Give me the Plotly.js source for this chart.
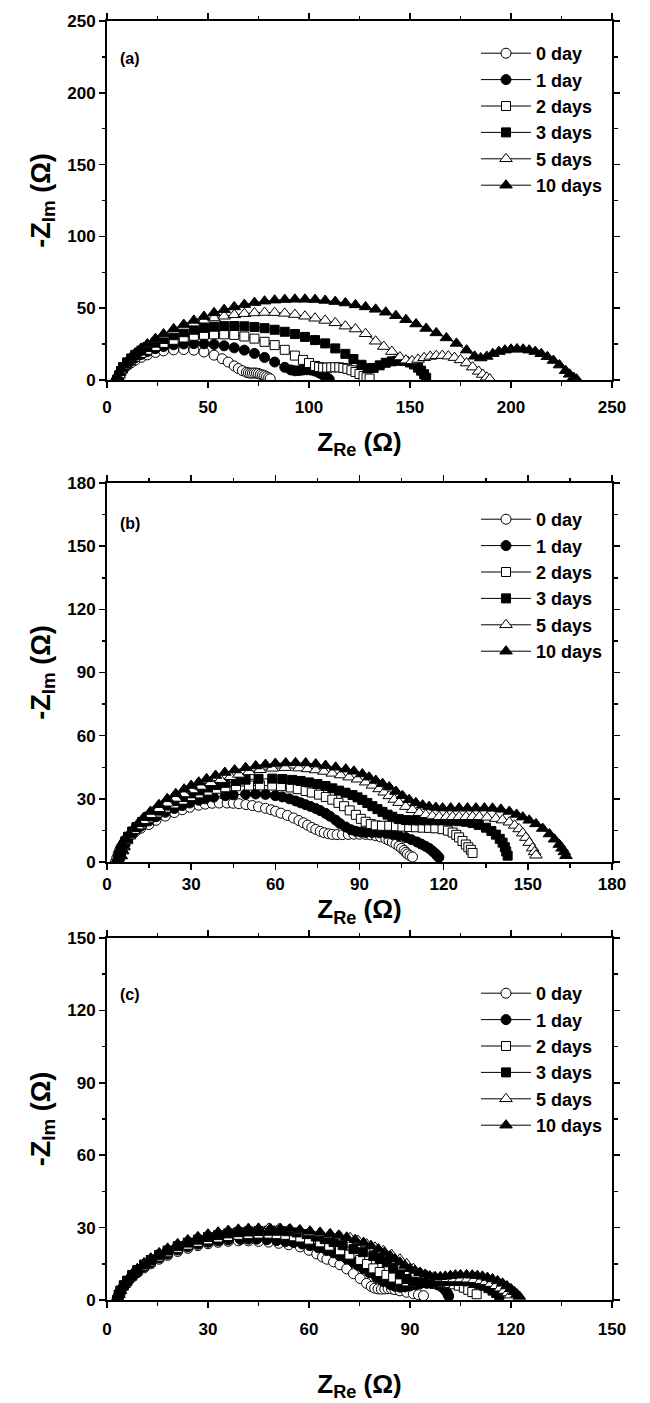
<!DOCTYPE html>
<html>
<head>
<meta charset="utf-8">
<script src="https://cdn.plot.ly/plotly-3.0.1.min.js"></script>
<style>html,body{margin:0;padding:0;background:#fff;}#chart{width:650px;height:1403px;}</style>
</head>
<body>
<div id="chart"></div>
<script>
// ---------------- DATA ----------------
const seriesNames = ['0 day', '1 day', '2 days', '3 days', '5 days', '10 days'];

// Panel (a)
const ax0 = [5,6,7,8,10,12,14,17,20,24,28,33,38,43,48,53,57,60,63,65,67,69,70,71,72,73,74,75,76,77,78,79,80,80.8];
const ay0 = [0,3,5.5,7.5,10,12,13.8,15.8,17.5,19.2,20.3,21,21.2,20.8,19.5,17.3,14.8,12.5,9.8,8,6.5,5.4,5,4.8,4.8,4.9,4.8,4.5,4,3.5,3,2.3,1.6,0.8];
const ax1 = [5,6,7,8,10,12,14,17,20,24,28,33,38,43,48,53,58,63,68,73,78,83,88,91,93,95,97,99,101,103,105,106.5,108,109,110];
const ay1 = [0,3,6,8,11,13.5,15.5,17.8,19.8,21.8,23.3,24.5,25.1,25.3,25.2,24.8,23.8,22.4,20.8,18.5,15.7,12.5,8.8,7,6.4,6.5,6.9,7.1,6.9,6.2,5,3.9,2.6,1.5,0.5];
const ax2 = [5,6,7,8,10,12,14,17,20,24,28,33,38,43,48,53,58,63,68,73,78,83,88,93,97,100,103,105,107,109,111,113,115,117,119,121,123,125,127,128.5,130];
const ay2 = [0,3,6,8.5,11.5,14,16.2,18.8,21,23.6,25.8,28,29.6,30.8,31.5,31.8,31.8,31.4,30.3,28.8,26.6,24.3,21,17,14,11.8,9.8,9,8.6,8.6,8.8,8.9,8.8,8.4,7.8,6.8,5.6,4.2,2.8,1.8,1];
const ax3 = [5,6,7,8,10,12,14,17,20,24,28,33,38,43,48,53,58,63,68,73,78,83,88,93,98,103,108,113,118,122,126,129,132,135,138,141,144,147,150,152,154,155.5,157,158];
const ay3 = [0,3.2,6.3,9,12.3,15,17.5,20.5,23,26,28.6,31.2,33.3,35,36.3,37.1,37.5,37.6,37.4,36.9,36.1,35,33.6,32,30,27.8,25.5,22,18.2,14.6,10.6,8.3,8.4,10.2,12,13,13.4,13.2,12.2,10.8,8.6,6.5,4,1.5];
const ax4 = [5,6,7,8,10,12,14,17,20,24,28,33,38,43,48,53,58,63,68,73,78,83,88,93,98,103,108,113,118,123,128,133,137,141,145,148,151,154,157,160,163,166,169,172,175,178,181,184,186,188,189.5];
const ay4 = [0,3.4,6.7,9.6,13,16,18.7,22,24.8,28.2,31.2,34.5,37.3,39.6,41.6,43.2,44.4,45.4,46.2,46.7,47,46.9,46.4,45.6,44.4,43,41.5,39.8,37.5,35.5,32.2,27,23.3,19.8,16,13.8,13.3,14.3,15.5,16.4,16.9,17,16.6,15.6,14,11.8,9,6,3.8,1.9,0.6];
const ax5 = [4,5,6,7,8.5,10,12,14,17,20,24,28,33,38,43,48,53,58,63,68,73,78,83,88,93,98,103,108,113,118,123,128,133,138,143,148,153,158,163,168,173,178,182,185,188,191,194,197,200,203,206,209,212,215,218,221,224,227,229,231,232.5];
const ay5 = [0,2.5,5,7.5,10.3,12.8,15.8,18.5,22,25,28.8,32,35.6,38.6,41.5,44.2,46.8,49,50.9,52.5,53.9,54.9,55.6,56,56.2,56.2,56,55.4,54.6,53.6,52.3,50.9,49.2,47.2,44.8,42,39,35.9,32.8,29.3,25.5,20.8,16.5,15.3,16.4,18.3,19.8,20.8,21.4,21.6,21.4,20.8,19.8,18.3,16.2,13.6,10.4,6.5,4,1.8,0.5];

// Panel (b)
const bx0 = [3,3.5,4,4.5,5,6,7,8.5,10,12,14.9,17.5,20.8,24,26.8,29.5,32.7,35,37.5,40,42.8,45,47,49.5,51.8,54,56.5,58.5,60.1,62,64.3,66.5,68.4,70,71.5,73,74.4,76,77.4,79,80.3,82,83.9,86,88,90,92.2,94,95.8,97.5,99.4,100.5,101.7,103,104.1,105,105.9,106.5,107.1,108,108.9];
const by0 = [0,2,4,5.5,7,9,10.8,12.8,14.3,16,17.8,19.8,21.8,23.5,24.8,26,27,27.5,27.9,28,28,27.9,27.7,27.3,26.8,26.2,25.5,24.8,24.1,23.2,22.1,20.9,19.7,18.6,17.5,16.4,15.5,14.6,13.9,13.4,13.1,13,13,13.1,13.2,13.2,13.1,12.9,12.5,11.9,11,10.3,9.5,8.5,7.5,6.5,5.5,4.6,3.8,3,2.4];
const bx1 = [3.5,4,4.5,5,6,7,8.5,10,12,14.9,17.5,20.8,24,26.8,29.5,32.7,35,38,42.2,45,49.4,53,56.5,60,62.5,65,67.2,69,70.8,72.5,74.4,76,77.9,79.5,81.5,83,85.1,87,88.7,90.5,92.2,94.5,97,99.5,101.7,104,106.5,108.5,110.5,112,113.5,114.8,116,117,117.7,118.3];
const by1 = [0,2.5,4.5,6.5,9,11,13.2,15,17,19.5,21.5,23.6,25.4,26.8,28,29.3,30,30.8,31.5,31.9,32.2,32.3,32.1,31.5,30.9,30,29,28.1,27.2,26.4,25.4,24.4,23.1,21.7,19.9,18.3,16.6,15.3,14.6,14.2,14,14,13.9,13.6,13.1,12.5,11.6,10.6,9.5,8.5,7.5,6.5,5.2,4,3,2.2];
const bx2 = [4,4.5,5,5.5,6.5,7.5,9,10.5,12.5,15,18,21,24,27,30,32.7,36,39,42.2,46,50.6,54.5,58.9,62,65.5,68,70.8,73,75.6,78,80.3,82.5,84.5,86.5,88.7,90.5,92.2,94,95.8,98,100.6,103,105.3,107.7,110.1,112.5,114.8,117,119.6,121.5,123.2,124.5,125.5,126.7,127.9,128.8,129.7,130.3];
const by2 = [0,2.6,4.8,6.6,9.5,11.6,14,16,18.3,20.8,23.5,25.8,27.8,29.6,31.3,32.6,33.9,34.8,35.5,36,36.3,36.4,36.3,36,35.4,34.6,33.7,33,32,30.9,29.6,28.1,26.5,24.5,22.4,20.5,19.1,18,17.4,17.2,17.2,17,16.8,16.6,16.5,16.3,16.2,16,15.6,14.9,14,12.9,11.7,10,8.3,7,5.8,4.3];
const bx3 = [4,4.5,5,5.5,6.5,7.5,9,10.5,12.5,15,18,21,24,27,30,33,36,39,42.2,46,49.4,54,58.9,62.5,66,69,72,75,77.9,80.3,82.7,85,87.5,89.3,91,92.8,94.6,96.4,98.2,100,101.7,104,106.5,109,111.3,114,116.5,119,121.5,123.5,125.5,128,130.3,132.5,135.1,137,138.6,140,141,141.8,142.3,142.8];
const by3 = [0,2.7,5,6.8,9.8,12,14.5,16.6,19,21.6,24.4,26.8,29,30.9,32.6,34,35.4,36.6,37.6,38.5,39.1,39.5,39.6,39.4,39,38.5,37.8,37,36.1,35,33.9,32.9,31.8,30.7,29.5,28,26.5,25.1,23.8,22.5,21.5,20.4,19.9,19.8,19.8,19.8,19.8,19.8,19.7,19.6,19.4,19.1,18.5,17.6,16.3,14.7,13,11,9.2,7,5,3];
const bx4 = [4.5,5,5.5,6,7,8,9.5,11,13,15.5,18.5,21.5,24.5,27.5,30.5,33.5,37,40.5,44,47,50.6,54.5,58.9,63.5,68.4,71.5,74.4,77.3,80.3,83.3,86.3,89.3,92.2,94.6,97,98.8,100.6,102.4,104.1,106.5,108.9,111.3,113.6,116,118.4,121,123.2,125.5,128,130.3,132.7,135.5,138.6,141,143.4,145.3,146.9,148.2,149.3,150.5,151.7,152.4,152.9];
const by4 = [0,2.8,5.2,7,10,12.3,14.9,17,19.6,22.4,25.3,27.9,30.2,32.3,34.2,35.9,37.6,39.1,40.5,41.6,42.8,43.8,44.5,44.8,44.6,44.2,43.7,43,42.1,41.3,40.3,39.3,37.9,36.4,34.7,33.1,31.4,29.7,28.2,26.3,24.8,23.4,22.4,21.8,21.5,21.5,21.5,21.5,21.5,21.5,21.5,21.2,20.6,19.9,18.9,17.4,15.7,13.7,11.6,9.2,6.6,4.8,3.2];
const bx5 = [4.5,5,5.5,6,7,8,9.5,11,13,15.5,18.5,21.5,24.5,27.5,30,32.7,35.5,38.7,42,45.5,49.4,53,56.5,60,63.7,67.2,70.8,74.4,77.9,81.5,85.1,88,91,93.4,95.8,98.2,100.6,103,105.3,107.7,110.1,112.5,114.8,117.2,119.6,122.5,125.5,128.5,131.5,134.5,137.4,140.4,143.4,146,148.2,150.5,152.9,155.3,157.7,159.5,161.2,162.2,163,163.6];
const by5 = [0,3,5.5,7.5,10.6,13,15.8,18.2,21,24,27.2,30,32.4,34.6,36.3,37.9,39.5,41.1,42.5,43.7,44.8,45.6,46.3,46.8,47,47.1,47,46.5,45.8,45,44.1,43.1,41.8,40.3,38.7,37.2,35.6,33.5,31.5,29.6,28.1,27,26.3,25.9,25.6,25.6,25.6,25.6,25.6,25.6,25.5,25,24,22.6,21.3,19.8,18.1,15.9,13.3,10.8,8.3,6.5,4.8,3];

// Panel (c)
const cx0 = [3,3.5,4,5,6,7.5,9,11,13,15.5,18,21,24,27,30,33,36,39,42,45,48,51,54,57.4,60,62.3,64,65.3,67.3,69.2,71.2,73.2,75.2,77.1,78.5,79.5,80.5,81.5,82.5,83.5,84.5,85.5,87,89,91,92.5,94];
const cy0 = [0,2,3.6,5.6,7.3,9.5,11.3,13.3,15,16.9,18.5,20.1,21.4,22.5,23.3,23.9,24.3,24.5,24.5,24.3,24,23.5,22.9,22,20.6,19.1,17.8,16.9,15.8,14.6,12.9,10.9,8.9,6.9,5.6,4.9,4.6,4.5,4.6,4.7,4.6,4.3,3.8,3.2,2.6,2.2,1.8];
const cx1 = [3,3.5,4,5,6,7.5,9,11,13,15.5,18,21,24,27,30,33,36,39.6,42,44.5,47.5,50.4,53,55.4,58,60.3,62.8,65.3,67.3,69.2,71.2,73.2,74.7,76.2,78,80.1,82,84.1,85.5,87,88.5,90,91.5,93,95,96.5,98,99,100,100.7,101.2,101.5];
const cy1 = [0,2.1,3.7,5.8,7.5,9.8,11.6,13.7,15.4,17.4,19,20.7,22,23.1,23.9,24.5,24.9,25.1,25.2,25.2,25,24.6,24.2,23.8,23.2,22.5,21.6,20.5,19.5,18.3,17,15.6,14.3,13,11.3,9.3,7.7,6.4,5.7,5.3,5.4,5.8,6.3,6.7,6.9,6.8,6.4,5.8,4.8,3.7,2.6,1.6];
const cx2 = [3,3.5,4,5,6,7.5,9,11,13,15.5,18,21,24,27,30,33,36,39,42,45,48,50.4,53,55.5,57.4,60,63.3,66,69.2,72,75.2,77.2,79.1,81,83,85,87,89,91,93,95,97,99,101,103,104.5,106,107.3,108.5,109.8];
const cy2 = [0,2.1,3.8,6,7.8,10.1,12,14.2,16,18,19.8,21.5,22.9,24.1,25.1,25.9,26.5,27,27.3,27.5,27.5,27.3,27,26.4,25.9,25,23.9,22.5,20.6,18.8,16.6,14.9,13.1,11.6,10.4,9.3,8.4,7.7,7.3,7.1,7.1,7.2,7.2,7,6.5,5.9,5.1,4.2,3.3,2.4];
const cx3 = [3,3.5,4,5,6,7.5,9,11,13,15.5,18,21,24,27,30,33,36,39,42,45,48,50.5,53.4,56.3,59.3,62,64.7,67.3,70,73.2,76,79.1,81,83.1,85,87,89,91,93,95,97,99,101,103,105,107,109,110.5,112,113.3,114.5,115.6,116.5];
const cy3 = [0,2.2,3.9,6.1,8,10.4,12.4,14.7,16.6,18.7,20.5,22.3,23.8,25,26.1,26.9,27.6,28.1,28.4,28.6,28.7,28.7,28.5,28,27.3,26.3,25.2,24,22.7,21.1,19.8,18.2,17,15.6,13.2,10.6,8.7,7.6,7.2,7.2,7.4,7.6,7.8,7.9,7.9,7.7,7.3,6.7,5.9,4.9,3.9,2.9,2];
const cx4 = [3,3.5,4,5,6,7.5,9,11,13,15.5,18,21,24,27,30,33,36,39,42,45,48,51,54,57,60,63,66,69.2,72.2,74.6,77.1,79.6,82.1,84.5,87,89,91,93,95,97,99,101,103,105,107,109,111,112.5,114,115.5,116.8,118,119,119.8];
const cy4 = [0,2.3,4,6.3,8.3,10.8,12.9,15.3,17.3,19.5,21.4,23.3,24.9,26.2,27.3,28.1,28.8,29.3,29.6,29.7,29.7,29.5,29.1,28.6,28,27.4,26.9,26.4,25.8,24.6,23.2,21.8,20.4,18.8,16.9,15,13,11.3,10.1,9.4,9,8.8,8.7,8.7,8.6,8.4,8,7.5,6.8,5.9,4.9,3.9,2.9,2];
const cx5 = [3,3.5,4,5,6,7.5,9,11,13,15.5,18,21,24,27,30,33,36,39,42,45,48.5,51.5,54.4,57.3,60.3,63.3,66.3,68.8,71.2,73.7,76.2,78.4,80.6,82.4,84.1,85.6,87,88.5,90,91.5,93,94.5,95.9,97.5,99,100.5,102,103.5,105,106.8,108.5,110,111.5,113,114.5,116,117.5,118.8,120,121,121.8,122.5];
const cy5 = [0,2.2,4,6.3,8.3,10.8,12.9,15.2,17.2,19.3,21.2,23,24.6,25.9,27,27.9,28.5,29,29.3,29.5,29.6,29.6,29.4,29,28.5,28,27.4,26.8,26,25,23.8,22.5,21.1,19.7,18.3,16.9,15.6,14.3,13,12.2,11.4,10.6,9.9,9.6,9.6,9.8,10.1,10.3,10.4,10.4,10.3,10.1,9.8,9.3,8.7,7.9,6.9,5.8,4.6,3.4,2.4,1.5];

const panelLabels = ['(a)', '(b)', '(c)'];
const xRanges = [[0, 250], [0, 180], [0, 150]];
const yRanges = [[0, 250], [0, 180], [0, 150]];
const majorSteps = [50, 30, 30];
const minorSteps = [25, 15, 15];

// ---------------- STYLE / LAYOUT ----------------
const W = 650, H = 1403;
const FONT = 'Liberation Sans, Arial, Helvetica, sans-serif';
const fy = px => 1 - px / H;
const xDom = [107 / W, 612 / W];
const panelBox = [[21, 380], [483, 862], [938, 1300]];
const labelY = [58, 524, 995];
const legendTop = [35, 501, 975];
const xTickStandoff = [5, 0, 7];
const xTitleStandoff = [16, 2, 36];

const symbols = [
  {symbol: 'circle', color: '#ffffff', size: 10},
  {symbol: 'circle', color: '#000000', size: 10},
  {symbol: 'square', color: '#ffffff', size: 9},
  {symbol: 'square', color: '#000000', size: 9},
  {symbol: 'triangle-up', color: '#ffffff', size: 11},
  {symbol: 'triangle-up', color: '#000000', size: 11}
];

const allX = [[ax0, ax1, ax2, ax3, ax4, ax5], [bx0, bx1, bx2, bx3, bx4, bx5], [cx0, cx1, cx2, cx3, cx4, cx5]];
const allY = [[ay0, ay1, ay2, ay3, ay4, ay5], [by0, by1, by2, by3, by4, by5], [cy0, cy1, cy2, cy3, cy4, cy5]];

const traces = [];
const layout = {
  width: W, height: H,
  margin: {l: 0, r: 0, t: 0, b: 0},
  paper_bgcolor: '#ffffff', plot_bgcolor: '#ffffff',
  font: {family: FONT, color: '#000', weight: 'bold'},
  showlegend: true,
  annotations: []
};

for (let p = 0; p < 3; p++) {
  const sfx = p === 0 ? '' : String(p + 1);
  const legName = 'legend' + sfx;
  for (let s = 0; s < 6; s++) {
    traces.push({
      type: 'scatter', mode: 'lines+markers',
      x: allX[p][s], y: allY[p][s],
      xaxis: 'x' + sfx, yaxis: 'y' + sfx,
      name: seriesNames[s],
      legend: legName,
      line: {color: '#000', width: 1},
      marker: {symbol: symbols[s].symbol, size: symbols[s].size, color: symbols[s].color,
               line: {color: '#000', width: 1}}
    });
  }
  const box = panelBox[p];
  const common = {
    showline: true, linewidth: 2, linecolor: '#000', mirror: 'ticks',
    showgrid: false, zeroline: false,
    ticks: 'outside', ticklen: 6, tickwidth: 1.5, tickcolor: '#000',
    tickmode: 'linear', tick0: 0,
    tickfont: {family: FONT, size: 17, weight: 'bold', color: '#000'},
    fixedrange: true
  };
  layout['xaxis' + sfx] = Object.assign({}, common, {
    domain: xDom, range: xRanges[p], dtick: majorSteps[p],
    anchor: 'y' + sfx,
    ticklabelstandoff: xTickStandoff[p],
    minor: {dtick: minorSteps[p], ticks: 'outside', ticklen: 3.5, tickwidth: 1.5, tickcolor: '#000'},
    title: {text: 'Z<sub>Re</sub> (Ω)', font: {family: FONT, size: 26, weight: 'bold', color: '#000'}, standoff: xTitleStandoff[p]}
  });
  layout['yaxis' + sfx] = Object.assign({}, common, {
    domain: [fy(box[1]), fy(box[0])], range: yRanges[p], dtick: majorSteps[p],
    anchor: 'x' + sfx,
    minor: {dtick: minorSteps[p], ticks: 'outside', ticklen: 3.5, tickwidth: 1.5, tickcolor: '#000'},
    title: {text: '-Z<sub>Im</sub> (Ω)', font: {family: FONT, size: 27, weight: 'bold', color: '#000'}, standoff: 9}
  });
  layout[legName] = {
    x: 476 / W, y: fy(legendTop[p]), xanchor: 'left', yanchor: 'top',
    xref: 'paper', yref: 'paper',
    bgcolor: 'rgba(0,0,0,0)', borderwidth: 0,
    font: {family: FONT, size: 18, weight: 'bold', color: '#000'},
    itemwidth: 50, tracegroupgap: 0
  };
  layout.annotations.push({
    text: panelLabels[p], xref: 'paper', yref: 'paper',
    x: 118 / W, y: fy(labelY[p]), xanchor: 'left', yanchor: 'middle',
    showarrow: false, font: {family: FONT, size: 16, weight: 'bold', color: '#000'}
  });
}

Plotly.newPlot('chart', traces, layout, {staticPlot: true, displayModeBar: false});
</script>
</body>
</html>
